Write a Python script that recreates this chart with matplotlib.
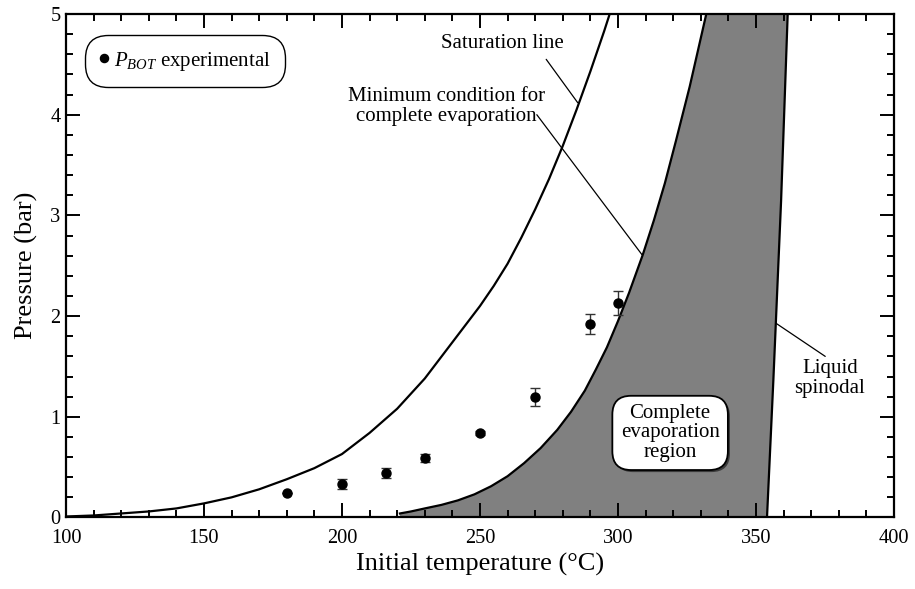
import matplotlib
matplotlib.use("Agg")
import matplotlib.pyplot as plt
import matplotlib.patheffects as pe
from matplotlib.ticker import MultipleLocator

plt.rcParams['font.family'] = ['Liberation Serif', 'DejaVu Serif']
plt.rcParams['mathtext.fontset'] = 'custom'
plt.rcParams['mathtext.rm'] = 'Liberation Serif'
plt.rcParams['mathtext.it'] = 'Liberation Serif:italic'

# ---- data ----
sat_T = [100, 110, 120, 130, 140, 150, 160, 170, 180, 190, 200, 210, 220,
         230, 240, 250, 255, 260, 265, 270, 275, 280, 285, 290, 295, 297]
sat_P = [0.01, 0.02, 0.04, 0.06, 0.09, 0.14, 0.20, 0.28, 0.38, 0.49, 0.63,
         0.84, 1.08, 1.38, 1.74, 2.10, 2.30, 2.52, 2.78, 3.06, 3.36, 3.69,
         4.05, 4.43, 4.83, 5.0]

min_T = [221, 225, 230, 236, 242, 248, 254, 260, 266, 272, 278, 283, 288,
         292, 296, 300, 304, 309, 313, 317, 321, 326, 332]
min_P = [0.04, 0.06, 0.09, 0.125, 0.17, 0.23, 0.31, 0.41, 0.54, 0.69, 0.87,
         1.05, 1.26, 1.47, 1.69, 1.95, 2.23, 2.61, 2.95, 3.32, 3.74, 4.28, 5.0]

spin_T = [354, 356.3, 359.1, 361.5]
spin_P = [0.0, 1.36, 3.14, 5.0]

exp_T = [180, 200, 216, 230, 250, 270, 290, 300]
exp_P = [0.24, 0.33, 0.44, 0.59, 0.84, 1.20, 1.92, 2.13]
exp_err = [0.0, 0.05, 0.05, 0.04, 0.02, 0.09, 0.10, 0.12]

fig = plt.figure(figsize=(9.15, 5.89), dpi=100)
ax = fig.add_axes([0.0721, 0.1214, 0.9770 - 0.0721, 0.9762 - 0.1214])

# grey complete-evaporation region
reg_T = [min_T[0]] + min_T + spin_T[::-1]
reg_P = [0.0] + min_P + spin_P[::-1]
ax.fill(reg_T, reg_P, color='#808080', lw=0, zorder=1)

ax.plot(sat_T, sat_P, color='black', lw=1.6, zorder=3)
ax.plot(min_T, min_P, color='black', lw=1.6, zorder=3)
ax.plot(spin_T, spin_P, color='black', lw=1.6, zorder=3)

ax.errorbar(exp_T, exp_P, yerr=exp_err, fmt='none', ecolor='#333333',
            elinewidth=1.0, capsize=3.5, capthick=1.0, zorder=4)
ax.plot(exp_T, exp_P, 'o', color='black', ms=6.5, zorder=5,
        label=r'$P_{BOT}$ experimental')

# annotations
fs = 15
ax.text(258.2, 4.71, 'Saturation line', fontsize=fs, ha='center', va='center')
ax.annotate('', xy=(285.4, 4.12), xytext=(274.0, 4.55),
            arrowprops=dict(arrowstyle='-', lw=0.9, color='black',
                            shrinkA=0, shrinkB=0))
ax.text(237.8, 4.08, 'Minimum condition for\ncomplete evaporation', fontsize=fs,
        ha='center', va='center', linespacing=1.05)
ax.annotate('', xy=(308.7, 2.61), xytext=(270.6, 4.0),
            arrowprops=dict(arrowstyle='-', lw=0.9, color='black',
                            shrinkA=0, shrinkB=0))
ax.text(376.8, 1.38, 'Liquid\nspinodal', fontsize=fs, ha='center', va='center',
        linespacing=1.05)
ax.annotate('', xy=(357.2, 1.93), xytext=(375.1, 1.60),
            arrowprops=dict(arrowstyle='-', lw=0.9, color='black',
                            shrinkA=0, shrinkB=0))

t = ax.text(318.9, 0.84, 'Complete\nevaporation\nregion', fontsize=fs,
            ha='center', va='center', linespacing=1.02, zorder=6,
            bbox=dict(boxstyle='round,pad=0.4,rounding_size=0.9',
                      fc='white', ec='black', lw=1.3))
t.get_bbox_patch().set_path_effects([
    pe.SimplePatchShadow(offset=(1.5, -1.5), shadow_rgbFace='#333333', alpha=0.9),
    pe.Normal()])

leg = ax.legend(loc='upper left', bbox_to_anchor=(0.023, 0.958), fontsize=fs,
                frameon=True, fancybox=True, handlelength=0.4,
                handletextpad=0.28, borderpad=0.7, borderaxespad=0,
                markerscale=0.9)
frame = leg.get_frame()
frame.set_boxstyle('round,pad=0,rounding_size=1.1')
frame.set_edgecolor('black')
frame.set_linewidth(1.0)
frame.set_alpha(1)

# axes formatting
ax.set_xlim(100, 400)
ax.set_ylim(0, 5)
ax.xaxis.set_major_locator(MultipleLocator(50))
ax.xaxis.set_minor_locator(MultipleLocator(10))
ax.yaxis.set_major_locator(MultipleLocator(1))
ax.yaxis.set_minor_locator(MultipleLocator(0.2))
ax.tick_params(which='both', direction='in', top=True, right=True,
               width=1.4, labelsize=14.7, colors='black')
ax.tick_params(which='major', length=10)
ax.tick_params(which='minor', length=4.7)
ax.tick_params(axis='x', which='major', pad=8)
ax.tick_params(axis='y', which='major', pad=4)
for s in ax.spines.values():
    s.set_linewidth(1.6)

ax.set_xlabel('Initial temperature (°C)', fontsize=19, labelpad=4)
ax.set_ylabel('Pressure (bar)', fontsize=19, labelpad=9)

fig.savefig('out.png', dpi=100)
